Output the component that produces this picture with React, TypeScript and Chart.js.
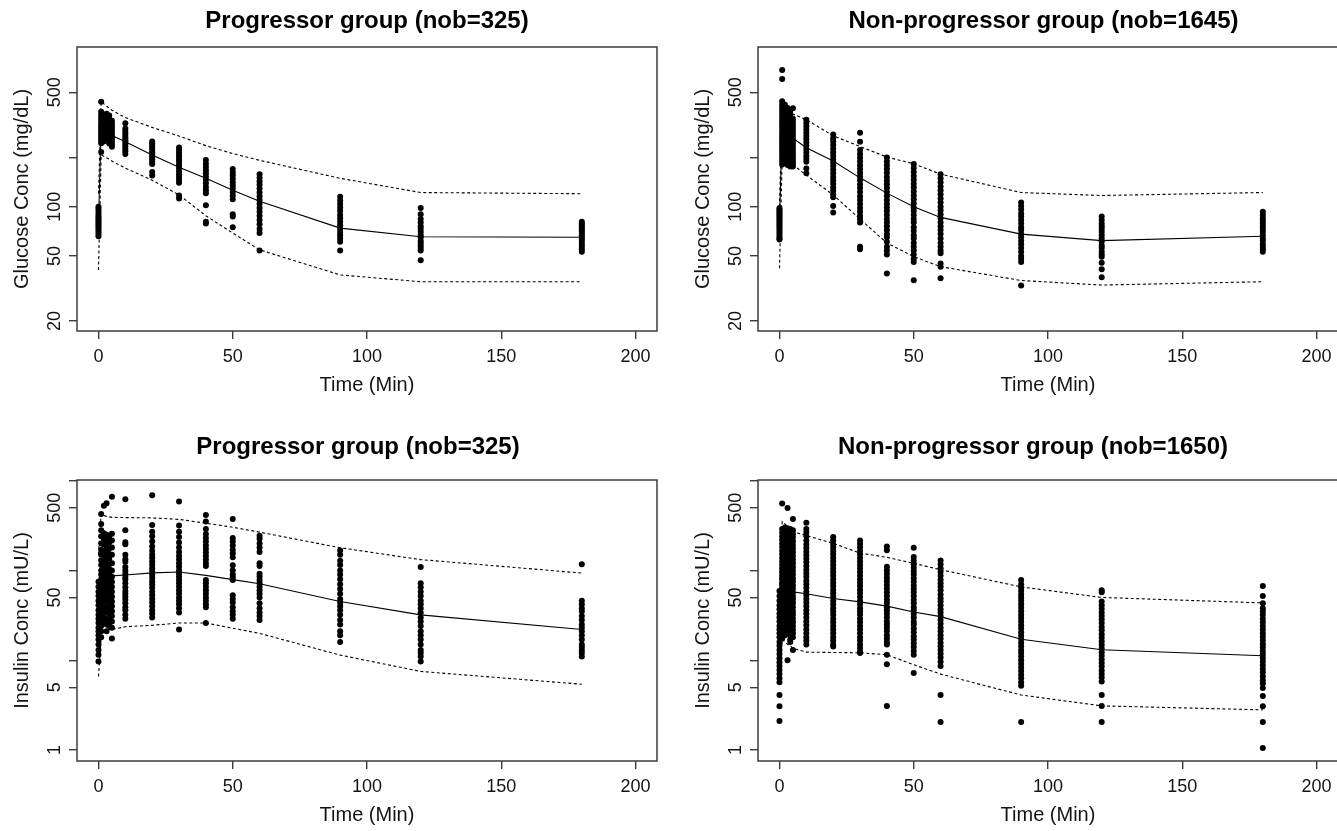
import React, { useEffect, useRef } from "react";
import { Chart, registerables } from "chart.js";

Chart.register(...registerables);

const FONT = "'Liberation Sans', Arial, Helvetica, sans-serif";
const TEXT = "#141414";
const AXIS = "#3c3c3c";

// ---- shared axis data ----
const TIMES = [0, 1, 2, 3, 4, 5, 10, 20, 30, 40, 50, 60, 90, 120, 180];
const X_TICKS = [0, 50, 100, 150, 200];
const GLU_TICKS = [20, 50, 100, 200, 500];
const GLU_LABELS = [20, 50, 100, 500];
const INS_TICKS = [1, 5, 10, 50, 100, 500, 1000];
const INS_LABELS = [1, 5, 50, 500];

// ---- Progressor group, glucose ----
const PROG_GLU_MEDIAN = [80, 300, 292, 286, 280, 272, 249, 207, 174, 149, 126, 108, 74, 65.5, 65];
const PROG_GLU_P95 = [120, 438, 425, 412, 400, 388, 350, 305, 270, 236, 211, 192, 149, 122, 120];
const PROG_GLU_P05 = [41, 207, 203, 199, 195, 190, 172, 145, 118, 88, 69, 54.5, 38.3, 34.8, 34.8];
const PROG_GLU_OBS = [
  [100, 97, 94, 91, 88, 86, 84, 82, 80, 78, 76, 74, 72, 70, 68, 66],
  [438, 380, 365, 350, 338, 326, 315, 305, 295, 286, 277, 268, 260, 252, 244, 216],
  [365, 352, 340, 328, 317, 306, 296, 286, 277, 268, 259, 250],
  [370, 356, 343, 331, 319, 308, 297, 287, 277, 268, 259],
  [360, 347, 334, 322, 311, 300, 290, 280, 270, 261, 252, 243],
  [335, 322, 310, 299, 288, 278, 268, 258, 249, 240, 232],
  [323, 300, 290, 280, 270, 262, 255, 248, 240, 232, 225, 218, 210],
  [250, 243, 236, 229, 222, 215, 208, 201, 195, 188, 182, 163, 155],
  [230, 222, 214, 206, 199, 192, 185, 178, 171, 164, 158, 152, 146, 140, 117, 112],
  [193, 183, 175, 167, 160, 153, 146, 139, 132, 126, 121, 102, 81, 79],
  [170, 162, 155, 148, 141, 135, 129, 123, 117, 111, 90, 87, 75],
  [158, 150, 143, 136, 129, 122, 116, 110, 104, 98, 93, 88, 83, 78, 73, 69, 54],
  [115, 109, 104, 99, 94, 89, 85, 81, 77, 73, 70, 67, 64, 61, 54],
  [98, 90, 84, 80, 76, 73, 70, 67, 65, 62, 60, 58, 56, 54, 47],
  [81, 79, 77, 75, 73, 71, 69, 67, 65, 63, 61, 59, 57, 55, 53],
];

// ---- Non-progressor group, glucose ----
const NONPROG_GLU_MEDIAN = [80, 300, 290, 280, 270, 262, 229, 190, 150, 121, 100, 86, 68, 62, 66];
const NONPROG_GLU_P95 = [100, 400, 392, 384, 376, 368, 340, 271, 233, 201, 183, 158, 122, 117, 122];
const NONPROG_GLU_P05 = [42, 195, 191, 187, 183, 180, 156, 118, 84, 60, 49.5, 43, 35.4, 33.2, 34.8];
const NONPROG_GLU_OBS = [
  [98, 96, 94, 92, 90, 88, 86, 84, 82, 80, 78, 76, 74, 72, 70, 68, 66, 64, 63],
  [684, 603, 440, 420, 402, 385, 369, 354, 340, 327, 314, 302, 290, 279, 268, 258, 248, 239, 230, 221, 213, 205, 197, 189, 181],
  [420, 402, 385, 369, 354, 339, 325, 312, 299, 287, 275, 264, 253, 243, 233, 223, 214, 205, 197, 189],
  [400, 383, 367, 352, 337, 323, 310, 297, 285, 273, 262, 251, 241, 231, 221, 212, 203, 195, 187, 180],
  [390, 373, 357, 342, 328, 314, 301, 288, 276, 265, 254, 243, 233, 223, 214, 205, 196, 188, 180, 176],
  [399, 345, 331, 317, 304, 291, 279, 267, 256, 245, 235, 225, 215, 206, 197, 189, 182, 176],
  [340, 325, 310, 296, 283, 270, 258, 247, 236, 225, 215, 205, 196, 188, 171, 160],
  [276, 262, 250, 238, 226, 215, 205, 195, 186, 177, 168, 160, 152, 145, 138, 131, 125, 119, 114, 101, 92],
  [283, 249, 222, 210, 199, 189, 179, 170, 161, 153, 145, 137, 130, 123, 116, 110, 104, 98, 93, 88, 84, 80, 57, 55],
  [200, 189, 179, 170, 161, 152, 144, 137, 130, 123, 116, 110, 104, 99, 94, 89, 84, 80, 76, 72, 68, 65, 61, 57, 54, 51, 39],
  [182, 172, 163, 154, 146, 138, 131, 124, 117, 111, 105, 99, 94, 89, 84, 80, 75, 71, 67, 64, 60, 57, 54, 51, 48, 46, 35.5],
  [158, 149, 141, 133, 126, 119, 112, 106, 100, 95, 90, 85, 80, 76, 72, 68, 64, 60, 57, 54, 52, 45, 43, 36.5],
  [106, 101, 96, 91, 87, 83, 79, 75, 72, 68, 65, 62, 59, 56, 53, 50, 48, 46, 33],
  [87, 83, 79, 76, 73, 70, 67, 64, 61, 58, 56, 53, 51, 49.5, 45.5, 41.5, 37],
  [93, 89, 85, 82, 79, 76, 73, 70, 67, 64, 62, 59, 57, 55, 53],
];

// ---- Progressor group, insulin ----
const PROG_INS_MEDIAN = [22, 70, 80, 84, 86, 87, 89, 94, 96, 88, 79, 71, 45, 32, 22];
const PROG_INS_P95 = [150, 426, 410, 400, 395, 390, 388, 385, 370, 336, 303, 267, 179, 132, 93.5];
const PROG_INS_P05 = [6.6, 18, 21, 21.5, 22, 22, 23.6, 24.5, 26, 26, 22.7, 19.9, 11.4, 7.5, 5.4];
const PROG_INS_OBS = [
  [75, 66, 58, 52, 46, 41, 36, 32, 29, 26, 23, 21, 19, 17, 15, 13, 11.5, 9.7],
  [426, 330, 280, 240, 200, 170, 150, 130, 115, 100, 90, 80, 70, 62, 55, 48, 42, 37, 32, 28, 24, 21, 18],
  [527, 260, 225, 195, 165, 145, 125, 110, 96, 86, 76, 68, 60, 53, 46, 40, 35, 30, 26],
  [560, 250, 215, 185, 160, 140, 122, 107, 94, 84, 75, 67, 59, 52, 45, 39, 34, 29, 25, 21],
  [240, 205, 175, 152, 133, 117, 103, 91, 81, 72, 64, 57, 50, 44, 38, 33, 28, 24],
  [660, 256, 216, 180, 150, 120, 100, 85, 75, 66, 58, 51, 45, 40, 35, 31, 27, 23, 17.5],
  [620, 280, 206, 196, 150, 133, 125, 109, 100, 92, 85, 80, 72, 65, 59, 55, 51, 47, 43, 39, 36, 32, 29],
  [690, 320, 270, 240, 210, 185, 165, 150, 138, 126, 116, 106, 98, 90, 83, 76, 70, 64, 58, 53, 48, 44, 40, 36, 33, 30],
  [585, 316, 270, 235, 205, 180, 160, 145, 132, 120, 110, 100, 92, 85, 78, 72, 66, 60, 55, 50, 46, 42, 38, 34, 22],
  [415, 350, 290, 255, 230, 210, 190, 173, 158, 145, 132, 121, 112, 78, 72, 66, 60, 55, 50, 46, 42, 39, 26],
  [375, 230, 210, 190, 170, 155, 140, 114, 100, 90, 84, 78, 53, 48, 44, 39, 35, 32, 29],
  [244, 225, 200, 180, 160, 120, 112, 92, 85, 78, 72, 66, 60, 55, 50, 43, 38, 34, 31, 28],
  [167, 150, 128, 115, 100, 90, 80, 70, 62, 55, 48, 44, 40, 36, 32, 28, 25, 21, 19, 16],
  [109, 72, 65, 58, 52, 46, 42, 38, 34, 30, 27, 24, 21, 19, 17, 15, 13, 12, 11, 9.7],
  [117, 46, 42, 38, 35, 31, 28, 25, 23, 21, 19, 17, 15, 14, 13, 12, 11],
];

// ---- Non-progressor group, insulin ----
const NONPROG_INS_MEDIAN = [14, 62, 60, 59, 58, 57.7, 55, 48.7, 44.6, 40, 34.5, 30.6, 17.1, 13.1, 11.2];
const NONPROG_INS_P95 = [60, 350, 330, 310, 290, 270, 245, 200, 156, 140, 120, 102, 65.5, 50, 43.5];
const NONPROG_INS_P05 = [5.5, 17, 16, 15, 14.5, 13.6, 12.3, 12.2, 12.1, 11.5, 8.9, 7, 4.1, 3.1, 2.8];
const NONPROG_INS_OBS = [
  [59, 52, 46, 41, 37, 33, 30, 27, 24, 22, 20, 18, 16, 14.5, 13, 11.7, 10.5, 9.5, 8.6, 7.8, 7, 6.3, 5.7, 4.1, 3.07, 2.1],
  [555, 290, 265, 240, 220, 200, 182, 166, 151, 138, 126, 115, 105, 96, 88, 80, 73, 67, 61, 56, 51, 47, 43, 39, 36, 33, 30, 27.5, 25, 23, 21, 19, 17.5],
  [300, 272, 248, 226, 206, 188, 171, 156, 142, 130, 118, 108, 98, 90, 82, 75, 68, 62, 57, 52, 47, 43, 39, 36, 33, 30, 27, 25, 23, 21, 19],
  [495, 295, 268, 244, 222, 202, 184, 168, 153, 139, 127, 116, 106, 96, 88, 80, 73, 66, 60, 55, 50, 46, 42, 38, 35, 32, 29, 26, 24, 22, 20, 10],
  [290, 264, 240, 219, 199, 181, 165, 150, 137, 125, 114, 104, 94, 86, 78, 71, 65, 59, 54, 49, 45, 41, 37, 34, 31, 28, 25.5, 23, 21, 19, 17, 16],
  [375, 280, 255, 232, 211, 192, 175, 159, 145, 132, 120, 109, 99, 90, 82, 75, 68, 62, 56, 51, 47, 43, 39, 35, 32, 29, 26.5, 24, 22, 20, 18, 13],
  [340, 290, 265, 240, 215, 195, 178, 162, 148, 135, 123, 112, 102, 93, 85, 77, 70, 64, 58, 53, 48, 44, 40, 36, 33, 30, 27, 24.5, 22, 20, 18, 16.5, 15],
  [236, 215, 196, 180, 165, 151, 138, 126, 115, 105, 96, 88, 80, 73, 67, 61, 56, 51, 46, 42, 38, 35, 32, 29, 26.5, 24, 22, 20, 18, 16.5, 15, 14.2],
  [216, 198, 181, 165, 151, 138, 126, 115, 105, 96, 88, 80, 73, 67, 61, 56, 51, 46, 42, 38, 35, 32, 29, 26.5, 24, 22, 20, 18, 16.5, 15, 13.7, 12.5, 12],
  [185, 168, 110, 100, 91, 83, 76, 69, 63, 57, 52, 47, 43, 39, 36, 33, 30, 27, 25, 23, 21, 19, 17.5, 16, 15, 11.5, 9, 3.1],
  [179, 141, 128, 117, 107, 98, 90, 82, 75, 68, 62, 57, 52, 47, 43, 39, 36, 33, 30, 27, 25, 22.5, 20.5, 18.5, 17, 15.5, 14, 12.7, 11.5, 7.2],
  [129, 117, 106, 96, 87, 79, 72, 66, 60, 54, 49, 45, 41, 37, 34, 31, 28, 25.5, 23, 21, 19, 17.3, 15.7, 14.3, 13, 11.8, 10.7, 9.6, 8.6, 4.1, 2.05],
  [78, 70, 64, 59, 54, 50, 46, 42, 38.5, 35, 32, 29.5, 27, 24.5, 22.5, 20.5, 18.8, 17.2, 15.7, 14.3, 13, 12, 11, 10, 9.1, 8.3, 7.6, 6.9, 6.3, 5.7, 5.2, 2.05],
  [60, 57, 45, 41, 37.5, 34, 31, 28.5, 26, 23.5, 21.5, 19.5, 17.8, 16.2, 14.8, 13.5, 12.3, 11.2, 10.2, 9.3, 8.5, 7.7, 7, 6.4, 5.8, 4.1, 3.1, 2.05],
  [67, 52, 43, 38, 35, 32, 29, 26.5, 24, 22, 20, 18.3, 16.7, 15.2, 13.9, 12.7, 11.6, 10.6, 9.7, 8.8, 8, 7.3, 6.6, 6, 5.5, 4.9, 4.0, 3.07, 2.05, 1.05],
];

type Spec = {
  key: string;
  left: number;
  top: number;
  w: number;
  h: number;
  padTop: number;
  xAxisHeight: number;
  xTitlePad: number;
  title: string;
  titleX: number;
  titleY: number;
  yTitle: string;
  yMin: number;
  yMax: number;
  yTicks: number[];
  yLabels: number[];
  median: number[];
  upper: number[];
  lower: number[];
  obs: number[][];
};

const toPoints = (obs: number[][]) =>
  TIMES.flatMap((t, i) => obs[i].map((v) => ({ x: t, y: v })));
const toLine = (vals: number[]) => TIMES.map((t, i) => ({ x: t, y: vals[i] }));

const SPECS: Spec[] = [
  {
    key: "tl", left: 0, top: 0, w: 668, h: 416, padTop: 47, xAxisHeight: 85, xTitlePad: 18.5,
    title: "Progressor group (nob=325)", titleX: 367, titleY: 21.7,
    yTitle: "Glucose Conc (mg/dL)", yMin: 17.4, yMax: 945, yTicks: GLU_TICKS, yLabels: GLU_LABELS,
    median: PROG_GLU_MEDIAN, upper: PROG_GLU_P95, lower: PROG_GLU_P05, obs: PROG_GLU_OBS,
  },
  {
    key: "tr", left: 681, top: 0, w: 668, h: 416, padTop: 47, xAxisHeight: 85, xTitlePad: 18.5,
    title: "Non-progressor group (nob=1645)", titleX: 362.5, titleY: 21.7,
    yTitle: "Glucose Conc (mg/dL)", yMin: 17.4, yMax: 945, yTicks: GLU_TICKS, yLabels: GLU_LABELS,
    median: NONPROG_GLU_MEDIAN, upper: NONPROG_GLU_P95, lower: NONPROG_GLU_P05, obs: NONPROG_GLU_OBS,
  },
  {
    key: "bl", left: 0, top: 416, w: 668, h: 415, padTop: 64, xAxisHeight: 70, xTitlePad: 3.5,
    title: "Progressor group (nob=325)", titleX: 358, titleY: 31.5,
    yTitle: "Insulin Conc (mU/L)", yMin: 0.754, yMax: 1017, yTicks: INS_TICKS, yLabels: INS_LABELS,
    median: PROG_INS_MEDIAN, upper: PROG_INS_P95, lower: PROG_INS_P05, obs: PROG_INS_OBS,
  },
  {
    key: "br", left: 681, top: 416, w: 668, h: 415, padTop: 64, xAxisHeight: 70, xTitlePad: 3.5,
    title: "Non-progressor group (nob=1650)", titleX: 352, titleY: 31.5,
    yTitle: "Insulin Conc (mU/L)", yMin: 0.754, yMax: 1017, yTicks: INS_TICKS, yLabels: INS_LABELS,
    median: NONPROG_INS_MEDIAN, upper: NONPROG_INS_P95, lower: NONPROG_INS_P05, obs: NONPROG_INS_OBS,
  },
];

function Panel({ spec }: { spec: Spec }) {
  const ref = useRef<HTMLCanvasElement>(null);

  useEffect(() => {
    const canvas = ref.current;
    if (!canvas) return;

    const decor = {
      id: "decor",
      afterDraw(chart: any) {
        const { ctx, chartArea: a } = chart;
        const ys = chart.scales.y;
        ctx.save();
        ctx.strokeStyle = AXIS;
        ctx.lineWidth = 1.5;
        ctx.strokeRect(a.left, a.top, a.right - a.left, a.bottom - a.top);

        ctx.fillStyle = TEXT;
        ctx.font = `18px ${FONT}`;
        ctx.textAlign = "center";
        ctx.textBaseline = "alphabetic";
        for (const v of spec.yLabels) {
          const py = ys.getPixelForValue(v);
          ctx.save();
          ctx.translate(a.left - 17, py);
          ctx.rotate(-Math.PI / 2);
          ctx.fillText(String(v), 0, 0);
          ctx.restore();
        }

        ctx.fillStyle = "#000";
        ctx.font = `bold 24px ${FONT}`;
        ctx.textBaseline = "middle";
        ctx.fillText(spec.title, spec.titleX, spec.titleY);
        ctx.restore();
      },
    };

    const lineBase = {
      showLine: true,
      borderColor: "#000",
      borderWidth: 1.1,
      pointRadius: 0,
      tension: 0,
      fill: false,
    };

    const chart = new Chart(canvas, {
      type: "scatter",
      data: {
        datasets: [
          { ...lineBase, label: "median", data: toLine(spec.median) },
          { ...lineBase, label: "upper", data: toLine(spec.upper), borderDash: [3, 2.5] },
          { ...lineBase, label: "lower", data: toLine(spec.lower), borderDash: [3, 2.5] },
          {
            label: "observed",
            data: toPoints(spec.obs),
            showLine: false,
            pointRadius: 3,
            pointStyle: "circle",
            backgroundColor: "#000",
            borderColor: "#000",
            borderWidth: 0,
          },
        ],
      },
      options: {
        responsive: false,
        animation: false,
        events: [],
        layout: { padding: { top: spec.padTop, left: 0, right: 11, bottom: 0 } },
        plugins: {
          legend: { display: false },
          tooltip: { enabled: false },
          title: { display: false },
        },
        scales: {
          x: {
            type: "linear",
            bounds: "data",
            min: -8,
            max: 208,
            afterBuildTicks: (s: any) => {
              s.ticks = X_TICKS.map((v) => ({ value: v }));
            },
            afterFit: (s: any) => {
              s.height = spec.xAxisHeight;
            },
            ticks: {
              color: TEXT,
              font: { family: FONT, size: 18 },
              padding: 7,
              maxRotation: 0,
              minRotation: 0,
              autoSkip: false,
              callback: (v: any) => String(v),
            },
            grid: { drawOnChartArea: false, drawTicks: true, tickLength: 8, color: AXIS, lineWidth: 1.4 },
            border: { display: false },
            title: {
              display: true,
              text: "Time (Min)",
              color: TEXT,
              font: { family: FONT, size: 20 },
              padding: { top: 0, bottom: spec.xTitlePad },
            },
          },
          y: {
            type: "logarithmic",
            bounds: "data",
            min: spec.yMin,
            max: spec.yMax,
            afterBuildTicks: (s: any) => {
              s.ticks = spec.yTicks.map((v) => ({ value: v }));
            },
            afterFit: (s: any) => {
              s.width = 77;
            },
            ticks: { display: false },
            grid: { drawOnChartArea: false, drawTicks: true, tickLength: 8, color: AXIS, lineWidth: 1.4 },
            border: { display: false },
            title: {
              display: true,
              text: spec.yTitle,
              color: TEXT,
              font: { family: FONT, size: 20 },
              padding: { top: 10, bottom: 0 },
            },
          },
        },
      } as any,
      plugins: [decor],
    });

    return () => chart.destroy();
  }, [spec]);

  return (
    <canvas
      ref={ref}
      width={spec.w}
      height={spec.h}
      style={{ position: "absolute", left: spec.left, top: spec.top, width: spec.w, height: spec.h }}
    />
  );
}

export default function App() {
  return (
    <div
      style={{
        position: "absolute",
        left: 0,
        top: 0,
        width: 1337,
        height: 831,
        overflow: "hidden",
        background: "#ffffff",
      }}
    >
      {SPECS.map((s) => (
        <Panel key={s.key} spec={s} />
      ))}
    </div>
  );
}
